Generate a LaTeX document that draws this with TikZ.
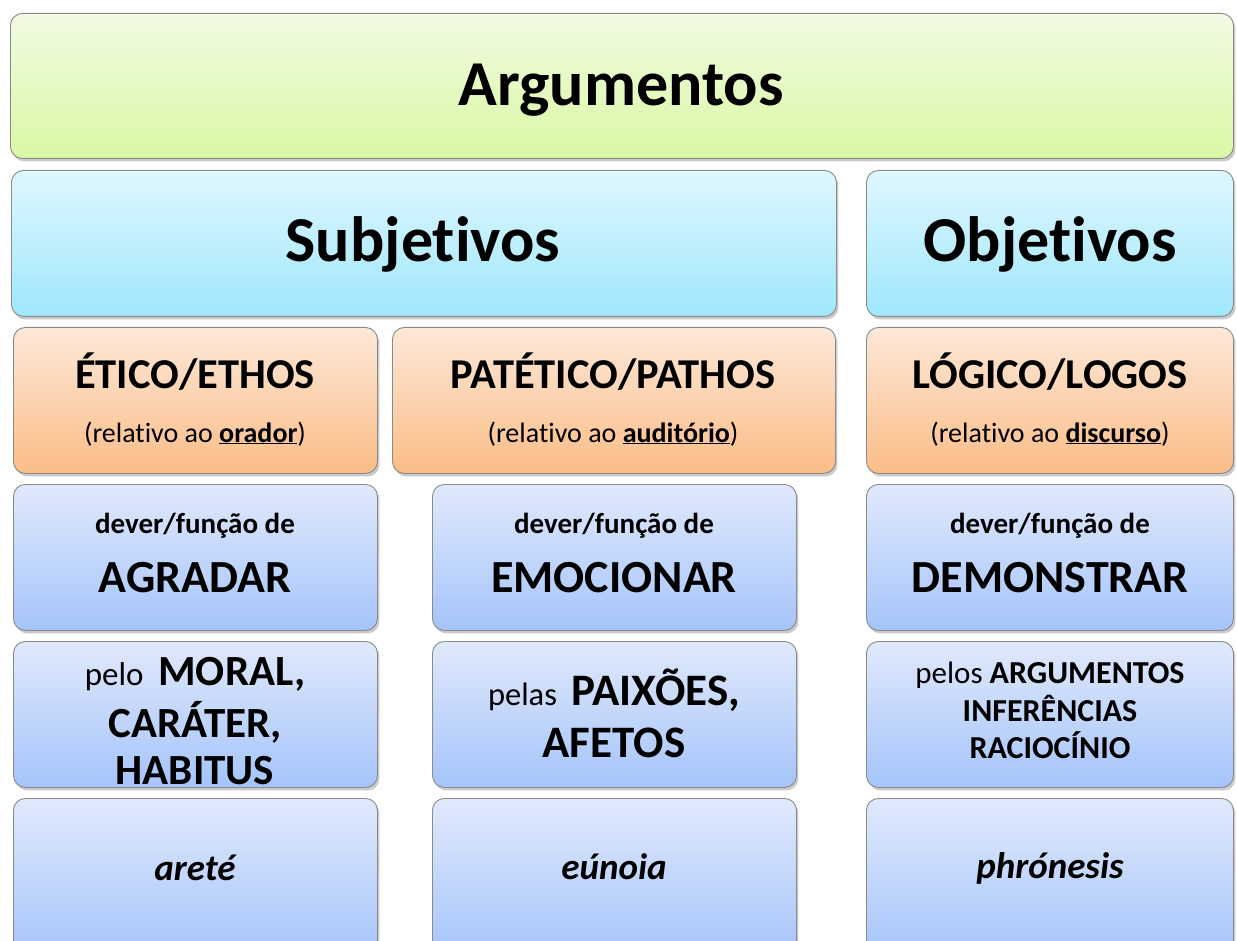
\documentclass[tikz,border=0pt]{standalone}
\usepackage{fontspec}
\setmainfont{Carlito}[Ligatures=NoCommon]
\usetikzlibrary{shadows}
\definecolor{gTop}{HTML}{F1FAE2}
\definecolor{gBot}{HTML}{D9F9A4}
\definecolor{cTop}{HTML}{DFF7FE}
\definecolor{cBot}{HTML}{9FE7FD}
\definecolor{oTop}{HTML}{FDE8D8}
\definecolor{oBot}{HTML}{FBBD87}
\definecolor{bTop}{HTML}{E0E9FC}
\definecolor{bBot}{HTML}{A5C4FA}
\definecolor{edge}{HTML}{8A8A8A}
\tikzset{
  panel/.style={draw=edge, line width=0.9pt, rounded corners=12pt, anchor=north west,
    inner sep=0pt, drop shadow={shadow xshift=2pt, shadow yshift=-3pt, opacity=0.35, fill=black!60}},
  greenbox/.style={panel, top color=gTop, bottom color=gBot},
  cyanbox/.style={panel, top color=cTop, bottom color=cBot},
  orangebox/.style={panel, top color=oTop, bottom color=oBot},
  bluebox/.style={panel, top color=bTop, bottom color=bBot},
  txt/.style={inner sep=0pt, align=center, text=black, anchor=base},
}
\newcommand{\fs}[1]{\fontsize{#1}{#1}\selectfont}
\begin{document}
\begin{tikzpicture}[x=1pt,y=-1pt]
\useasboundingbox (0,0) rectangle (1237,941);
\begin{scope}
\clip (0,0) rectangle (1237,941);
% row 1
\node[greenbox, minimum width=1223, minimum height=145] (arg) at (10,13) {};
% row 2
\node[cyanbox, minimum width=825, minimum height=146] (subj) at (11,170) {};
\node[cyanbox, minimum width=367, minimum height=146] (obj) at (866,170) {};
% row 3
\node[orangebox, minimum width=364, minimum height=146] (eti) at (13,327) {};
\node[orangebox, minimum width=443, minimum height=146] (pat) at (392,327) {};
\node[orangebox, minimum width=367, minimum height=146] (log) at (866,327) {};
% row 4
\node[bluebox, minimum width=364, minimum height=146] (agr) at (13,484) {};
\node[bluebox, minimum width=364, minimum height=146] (emo) at (432,484) {};
\node[bluebox, minimum width=367, minimum height=146] (dem) at (866,484) {};
% row 5
\node[bluebox, minimum width=364, minimum height=146] (mor) at (13,641) {};
\node[bluebox, minimum width=364, minimum height=146] (pai) at (432,641) {};
\node[bluebox, minimum width=367, minimum height=146] (rac) at (866,641) {};
% row 6
\node[bluebox, minimum width=364, minimum height=160] (are) at (13,798) {};
\node[bluebox, minimum width=364, minimum height=160] (eun) at (432,798) {};
\node[bluebox, minimum width=367, minimum height=160] (phr) at (866,798) {};
\end{scope}

% texts
\node[txt] (targ) at (621,106) {\fs{64}\bfseries Argumentos};
\node[txt] (tsubj) at (423,262) {\fs{64}\bfseries Subjetivos};
\node[txt] (tobj) at (1050,262) {\fs{64}\bfseries Objetivos};

\node[txt] (teti) at (195,388) {\fs{42.5}\bfseries ÉTICO/ETHOS};
\node[txt] (teti2) at (195,442) {\fs{28}(relativo ao \underline{\bfseries orador})};
\node[txt] (tpat) at (613,388) {\fs{42.5}\bfseries PATÉTICO/PATHOS};
\node[txt] (tpat2) at (613,442) {\fs{28}(relativo ao \underline{\bfseries auditório})};
\node[txt] (tlog) at (1050,388) {\fs{42.5}\bfseries LÓGICO/LOGOS};
\node[txt] (tlog2) at (1050,442) {\fs{28}(relativo ao \underline{\bfseries discurso})};

\node[txt] (tagr1) at (195,533) {\fs{29}\bfseries dever/função de};
\node[txt] (tagr2) at (195,592) {\fs{46}\bfseries AGRADAR};
\node[txt] (temo1) at (614,533) {\fs{29}\bfseries dever/função de};
\node[txt] (temo2) at (614,592) {\fs{46}\bfseries EMOCIONAR};
\node[txt] (tdem1) at (1050,533) {\fs{29}\bfseries dever/função de};
\node[txt] (tdem2) at (1050,592) {\fs{46}\bfseries DEMONSTRAR};

\node[txt] (tmor1) at (195,685) {\fs{33}pelo\ \ {\fs{43}\bfseries MORAL,}};
\node[txt] (tmor2) at (195,737) {\fs{43}\bfseries CARÁTER,};
\node[txt] (tmor3) at (195,784) {\fs{43}\bfseries HABITUS};

\node[txt] (tpai1) at (614,705) {\fs{32.5}pelas\ \ {\fs{45}\bfseries PAIXÕES,}};
\node[txt] (tpai2) at (614,757) {\fs{45}\bfseries AFETOS};

\node[txt] (trac1) at (1050,683) {\fs{31}pelos {\fs{32}\bfseries ARGUMENTOS}};
\node[txt] (trac2) at (1050,721) {\fs{32}\bfseries INFERÊNCIAS};
\node[txt] (trac3) at (1050,758) {\fs{32}\bfseries RACIOCÍNIO};

\node[txt] (tare) at (195,880) {\fs{37}\bfseries\itshape areté};
\node[txt] (teun) at (614,879) {\fs{37}\bfseries\itshape eúnoia};
\node[txt] (tphr) at (1050,878) {\fs{37}\bfseries\itshape phrónesis};
\end{tikzpicture}
\end{document}
